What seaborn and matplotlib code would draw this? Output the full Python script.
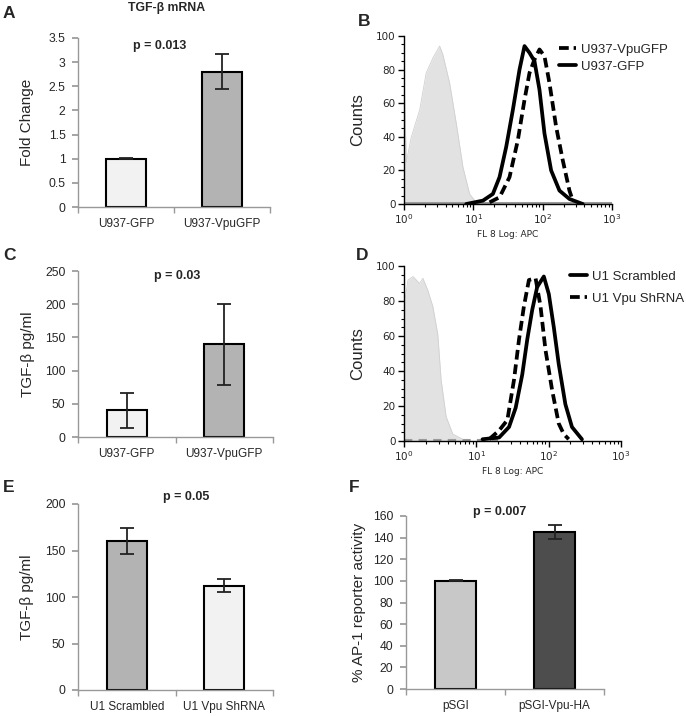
import numpy as np
import pandas as pd
import matplotlib
matplotlib.use('Agg')
import matplotlib.pyplot as plt
import matplotlib.ticker as mticker
import seaborn as sns

sns.set_theme(style='white')
plt.rcParams['font.family'] = ['Liberation Sans', 'DejaVu Sans']

# ---- bar panel data ----
a_cats = ['U937-GFP', 'U937-VpuGFP']
a_vals = [1.0, 2.8]
a_errs = [0.01, 0.36]

c_cats = ['U937-GFP', 'U937-VpuGFP']
c_vals = [40, 140]
c_errs = [27, 61]

e_cats = ['U1 Scrambled', 'U1 Vpu ShRNA']
e_vals = [160, 112]
e_errs = [14, 7]

f_cats = ['pSGI', 'pSGI-Vpu-HA']
f_vals = [100, 145]
f_errs = [0.5, 6.5]

# ---- flow histogram data (x as log10 of fluorescence, y counts) ----
b_iso_log = [0.0, 0.0, 0.034, 0.106, 0.226, 0.32, 0.418, 0.514, 0.56, 0.658, 0.754, 0.85, 0.946, 1.04]
b_iso_cnt = [0, 77, 25, 40, 56, 78, 87, 94, 89, 72, 48, 22, 6, 1]
b_gfp_log = [0.898, 1.138, 1.282, 1.378, 1.474, 1.57, 1.666, 1.738, 1.81, 1.882, 1.954, 2.026, 2.122, 2.242, 2.386, 2.578]
b_gfp_cnt = [0, 2, 6, 16, 34, 56, 80, 94, 90, 85, 68, 42, 20, 8, 3, 0]
b_vpu_log = [1.234, 1.378, 1.522, 1.642, 1.738, 1.81, 1.882, 1.954, 2.026, 2.098, 2.194, 2.29, 2.386, 2.434]
b_vpu_cnt = [1, 4, 16, 38, 62, 78, 86, 92, 88, 72, 46, 26, 8, 2]

d_iso_log = [0.0, 0.0, 0.055, 0.124, 0.215, 0.261, 0.33, 0.398, 0.467, 0.513, 0.582, 0.674, 0.811]
d_iso_cnt = [0, 77, 92, 94, 90, 93, 86, 77, 61, 35, 14, 4, 1]
d_scr_log = [1.086, 1.315, 1.452, 1.544, 1.635, 1.704, 1.773, 1.841, 1.933, 2.002, 2.071, 2.139, 2.231, 2.322, 2.46]
d_scr_cnt = [1, 2, 8, 19, 38, 58, 75, 88, 94, 84, 65, 44, 21, 8, 1]
d_sh_log = [1.177, 1.315, 1.429, 1.521, 1.59, 1.658, 1.727, 1.819, 1.887, 1.956, 2.048, 2.139, 2.208, 2.277]
d_sh_cnt = [1, 6, 12, 35, 58, 77, 92, 93, 77, 52, 29, 10, 4, 1]

W, H = 686, 716
fig = plt.figure(figsize=(W / 100, H / 100), dpi=100)


def box(l, r, t, b):
    return [l / W, 1 - b / H, (r - l) / W, (b - t) / H]


def bar_panel(rect, cats, vals, errs, colors, ymax, ystep, ylabel, ptext, px, py, lpad):
    ax = fig.add_axes(rect)
    df = pd.DataFrame({'cat': cats, 'val': vals})
    sns.barplot(data=df, x='cat', y='val', hue='cat', palette=colors,
                width=0.41, edgecolor='black', linewidth=1.5, legend=False, ax=ax)
    ax.errorbar(range(len(cats)), vals, yerr=errs, fmt='none', ecolor='#222222',
                elinewidth=1.3, capsize=5, capthick=1.3)
    ax.set_xlim(-0.5, 1.5)
    ax.set_ylim(0, ymax)
    ax.set_yticks(np.arange(0, ymax + ystep / 2, ystep))
    ax.yaxis.set_major_formatter(mticker.FuncFormatter(lambda v, p: f'{v:g}'))
    ax.set_xticks([-0.5, 0.5, 1.5], minor=True)
    ax.tick_params(axis='x', which='major', length=0, labelsize=8.5, pad=8)
    ax.tick_params(axis='x', which='minor', length=4, color='#999999', bottom=True, direction='out')
    ax.tick_params(axis='y', length=4, color='#999999', left=True, labelsize=8.7,
                   direction='out', pad=5)
    for s in ['top', 'right']:
        ax.spines[s].set_visible(False)
    for s in ['left', 'bottom']:
        ax.spines[s].set_color('#999999')
        ax.spines[s].set_linewidth(1)
    ax.set_xlabel('')
    ax.set_ylabel(ylabel, fontsize=11, labelpad=lpad)
    ax.text(px, py, ptext, fontsize=9, fontweight='bold', ha='center', va='center',
            clip_on=False)
    return ax


def flow_panel(rect, iso_log, iso_cnt, curves, legend_pos, lspace):
    ax = fig.add_axes(rect)
    ax.set_xscale('log')
    ax.fill_between(np.power(10.0, iso_log), iso_cnt, color='#e2e2e2', lw=0)
    ax.plot(np.power(10.0, iso_log), iso_cnt, color='#d0d0d0', lw=0.6)
    for lg, cnt, ls, lab in curves:
        sns.lineplot(x=np.power(10.0, lg), y=cnt, sort=False, color='black', lw=2.7,
                     linestyle=ls, label=lab, ax=ax, legend=False)
    ax.set_xlim(1, 1000)
    ax.set_ylim(0, 100)
    ax.set_yticks(np.arange(0, 101, 20))
    ax.set_yticks(np.arange(0, 101, 5), minor=True)
    ax.set_xticks([1, 10, 100, 1000])
    ax.xaxis.set_minor_locator(mticker.LogLocator(base=10, subs=np.arange(2, 10), numticks=10))
    ax.xaxis.set_minor_formatter(mticker.NullFormatter())
    ax.tick_params(which='major', length=4, width=1, color='black', labelsize=7.5,
                   direction='out', left=True, bottom=True, pad=2)
    ax.tick_params(which='minor', length=2, width=0.8, color='black',
                   direction='out', left=True, bottom=True)
    for lab in ax.get_xticklabels() + ax.get_yticklabels():
        lab.set_family('DejaVu Sans')
    for s in ['top', 'right']:
        ax.spines[s].set_visible(False)
    for s in ['left', 'bottom']:
        ax.spines[s].set_color('black')
        ax.spines[s].set_linewidth(1)
    ax.set_ylabel('Counts', fontsize=12, labelpad=8)
    ax.set_xlabel('FL 8 Log: APC', fontsize=6.5, labelpad=3, family='DejaVu Sans')
    ax.legend(loc='upper left', bbox_to_anchor=legend_pos, frameon=False, fontsize=9.5,
              handlelength=1.3, handletextpad=0.4, borderaxespad=0, borderpad=0,
              labelspacing=lspace)
    return ax


# A
axA = bar_panel(box(78, 270, 38, 207), a_cats, a_vals, a_errs, ['#f2f2f2', '#b3b3b3'],
                3.5, 0.5, 'Fold Change', 'p = 0.013', 0.35, 3.33, 10.5)
fig.text(167 / W, 1 - 8 / H, 'TGF-β mRNA', fontsize=8.8, fontweight='bold', ha='center', va='center')
fig.text(3 / W, 1 - 14 / H, 'A', fontsize=12.5, fontweight='bold', ha='left', va='center')

# C
axC = bar_panel(box(78, 273, 271, 437), c_cats, c_vals, c_errs, ['#f2f2f2', '#b3b3b3'],
                250, 50, 'TGF-β pg/ml', 'p = 0.03', 0.515, 242, 7)
fig.text(3 / W, 1 - 255 / H, 'C', fontsize=12.5, fontweight='bold', ha='left', va='center')

# E
axE = bar_panel(box(78, 273, 504, 690), e_cats, e_vals, e_errs, ['#b3b3b3', '#f2f2f2'],
                200, 50, 'TGF-β pg/ml', 'p = 0.05', 0.61, 207, 8)
fig.text(3 / W, 1 - 487 / H, 'E', fontsize=12.5, fontweight='bold', ha='left', va='center')

# F
axF = bar_panel(box(406, 604, 516, 689), f_cats, f_vals, f_errs, ['#c8c8c8', '#4d4d4d'],
                160, 20, '% AP-1 reporter activity', 'p = 0.007', 0.45, 163.5, 5)
fig.text(349 / W, 1 - 487 / H, 'F', fontsize=12.5, fontweight='bold', ha='left', va='center')

# B
axB = flow_panel(box(404, 612, 36, 204), b_iso_log, b_iso_cnt,
                 [(b_vpu_log, b_vpu_cnt, (0, (2.6, 1.3)), 'U937-VpuGFP'),
                  (b_gfp_log, b_gfp_cnt, '-', 'U937-GFP')], (0.745, 0.955), 0.38)
axB.axhline(0.6, color='#9a9a9a', lw=2.2, zorder=1)
fig.text(358 / W, 1 - 22 / H, 'B', fontsize=12.5, fontweight='bold', ha='left', va='center')

# D
axD = flow_panel(box(404, 621, 266, 441), d_iso_log, d_iso_cnt,
                 [(d_scr_log, d_scr_cnt, '-', 'U1 Scrambled'),
                  (d_sh_log, d_sh_cnt, (0, (2.6, 1.3)), 'U1 Vpu ShRNA')], (0.765, 0.975), 0.75)
axD.plot([1, 20], [0.8, 0.8], color='#9a9a9a', lw=1.5, ls=(0, (4, 3)), zorder=1)
fig.text(356 / W, 1 - 255 / H, 'D', fontsize=12.5, fontweight='bold', ha='left', va='center')

fig.savefig('out.png', dpi=100)
